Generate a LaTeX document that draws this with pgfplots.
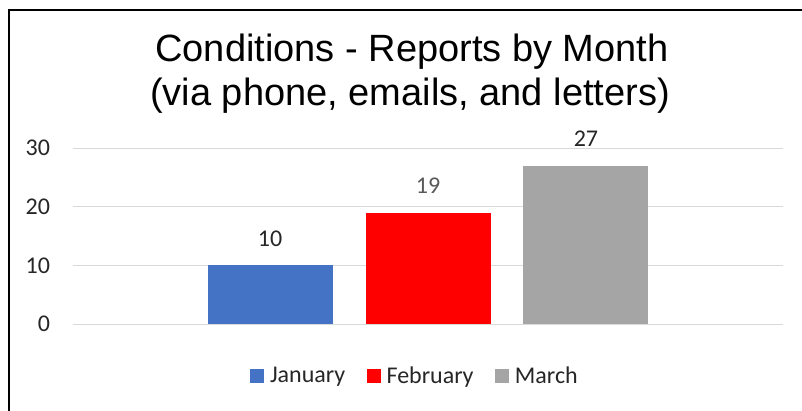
\documentclass[border=0pt]{standalone}
\usepackage{fontspec}
\setmainfont{Carlito}
\newfontfamily\arial{Liberation Sans}
\usepackage{pgfplots}
\pgfplotsset{compat=1.18}
\definecolor{jan}{HTML}{4472C4}
\definecolor{feb}{HTML}{FF0000}
\definecolor{mar}{HTML}{A5A5A5}
\definecolor{gridgray}{HTML}{D9D9D9}
\definecolor{lbldark}{HTML}{262626}
\definecolor{lblgray}{HTML}{595959}
\begin{document}
\begin{tikzpicture}
\useasboundingbox (0,0) rectangle (601.5pt,-307.5pt);
\draw[line width=1.5pt] (6.375pt,-310pt) -- (6.375pt,-7.5pt) -- (605pt,-7.5pt);
\node[anchor=base, font=\arial\fontsize{28.5}{34}\selectfont] at (309pt,-46.5pt) {Conditions - Reports by Month};
\node[anchor=base, font=\arial\fontsize{28.5}{34}\selectfont] at (307.5pt,-78.75pt) {(via phone, emails, and letters)};
\begin{axis}[
  at={(54.75pt,-243pt)}, anchor=south west,
  width=532.5pt, height=132pt, scale only axis,
  xmin=-2.247, xmax=2.247, ymin=0, ymax=30,
  ytick={0,10,20,30}, xtick=\empty,
  axis line style={draw=none},
  major tick length=0pt,
  ymajorgrids, grid style={color=gridgray, line width=0.75pt},
  ybar, bar width=93.75pt, bar shift=0pt,
  clip=false,
  /pgf/number format/assume math mode=true,
  yticklabel style={font=\fontsize{18}{21}\selectfont, text=lbldark, inner sep=0pt, xshift=-17pt},
  nodes near coords,
  every node near coord/.append style={anchor=base, yshift=14.25pt, inner sep=0pt, font=\fontsize{18}{21}\selectfont},
  legend columns=3,
  legend style={at={(0.482,-0.295)}, anchor=center, draw=none, fill=none,
    font=\fontsize{18}{21}\selectfont, text=lbldark,
    /tikz/every even column/.append style={column sep=14pt}},
  legend image code/.code={\fill[#1] (0pt,-5.25pt) rectangle (10.5pt,5.25pt); \path (13pt,0pt);},
]
\addplot[fill=jan, draw=none, every node near coord/.append style={text=lbldark}] coordinates {(-1,10)};
\addlegendentry{January}
\addplot[fill=feb, draw=none, every node near coord/.append style={text=lblgray}] coordinates {(0,19)};
\addlegendentry{February}
\addplot[fill=mar, draw=none, every node near coord/.append style={text=lbldark}] coordinates {(1,27)};
\addlegendentry{March}
\end{axis}
\end{tikzpicture}
\end{document}
